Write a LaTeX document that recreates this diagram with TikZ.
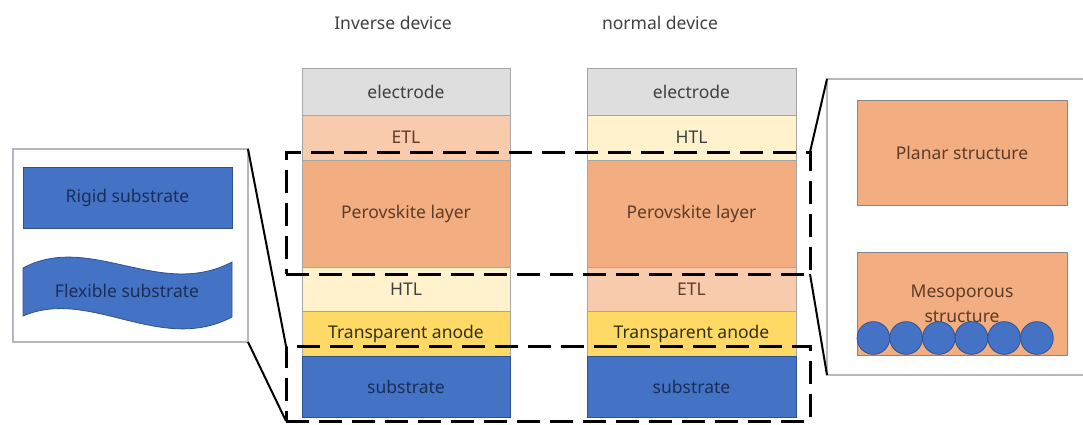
\documentclass[tikz,border=0pt]{standalone}
\usepackage{fontspec}
\setmainfont{Noto Sans}
\definecolor{elec}{HTML}{DEDEDE}
\definecolor{etl}{HTML}{F8CBAD}
\definecolor{pero}{HTML}{F2AD80}
\definecolor{htl}{HTML}{FFF2CC}
\definecolor{anode}{HTML}{FFD966}
\definecolor{subs}{HTML}{4472C4}
\definecolor{subsline}{HTML}{2F528F}
\definecolor{laybd}{HTML}{A6A6A6}
\definecolor{panelbd}{HTML}{B4B8BE}
\definecolor{txtgray}{HTML}{404040}
\definecolor{txtbrown}{HTML}{5E3C28}
\definecolor{txtanode}{HTML}{343018}
\definecolor{txtnavy}{HTML}{1A2F58}
\begin{document}
\begin{tikzpicture}[x=1pt,y=-1pt,
  every node/.style={outer sep=0pt},
  lbl/.style={font=\fontsize{17.5}{22}\selectfont},
  layer/.style={lbl, draw=laybd, line width=0.8pt, anchor=north west, inner sep=0pt},
  lw/.style={minimum width=208pt},
  rw/.style={minimum width=209pt},
  dashbox/.style={draw=black, line width=3pt, dash pattern=on 23pt off 10pt, anchor=north west, inner sep=0pt},
  panel/.style={draw=panelbd, line width=1.2pt, anchor=north west, inner sep=0pt},
  conn/.style={draw=black, line width=2pt},
  bluebox/.style={lbl, fill=subs, draw=subsline, line width=0.8pt, text=txtnavy, anchor=north west, inner sep=0pt},
  perobox/.style={lbl, fill=pero, draw=laybd!80!black, line width=0.8pt, text=txtbrown, anchor=north west, inner sep=0pt},
  dot/.style={circle, fill=subs, draw=subsline, line width=0.8pt, minimum size=32.7pt, inner sep=0pt},
  title/.style={font=\fontsize{17.5}{22}\selectfont, text=txtgray}]
\useasboundingbox (0,0) rectangle (1083,425);
\clip (0,0) rectangle (1083,425);
% titles
\node[title] (t1) at (393,23) {Inverse device};
\node[title] (t2) at (660,23) {normal device};
% inverse stack
\node[layer, lw, fill=elec, text=txtgray, minimum height=47pt] (le) at (302,68) {electrode};
\node[layer, lw, fill=etl, text=txtbrown, minimum height=45pt] (let) at (302,115) {ETL};
\node[layer, lw, fill=pero, text=txtbrown, minimum height=107pt] (lp2) at (302,160) {Perovskite layer};
\node[layer, lw, fill=htl, text=txtgray, minimum height=44pt] (lh) at (302,267) {HTL};
\node[layer, lw, fill=anode, text=txtanode, minimum height=45pt] (la) at (302,311) {Transparent anode};
\node[layer, lw, fill=subs, draw=subsline, text=txtnavy, minimum height=61pt] (ls) at (302,356) {substrate};
% normal stack
\node[layer, rw, fill=elec, text=txtgray, minimum height=47pt] (re) at (587,68) {electrode};
\node[layer, rw, fill=htl, text=txtgray, minimum height=45pt] (rh) at (587,115) {HTL};
\node[layer, rw, fill=pero, text=txtbrown, minimum height=107pt] (rp2) at (587,160) {Perovskite layer};
\node[layer, rw, fill=etl, text=txtbrown, minimum height=44pt] (ret) at (587,267) {ETL};
\node[layer, rw, fill=anode, text=txtanode, minimum height=45pt] (ra) at (587,311) {Transparent anode};
\node[layer, rw, fill=subs, draw=subsline, text=txtnavy, minimum height=61pt] (rs) at (587,356) {substrate};
% dashed selection boxes
\node[dashbox, minimum width=524pt, minimum height=122pt] (A) at (286,152) {};
\node[dashbox, minimum width=524pt, minimum height=75pt] (B) at (286,346) {};
% left panel
\node[panel, minimum width=235pt, minimum height=193pt] (lpan) at (13,149) {};
\node[bluebox, minimum width=209pt, minimum height=61pt] (rigid) at (23,167) {Rigid substrate};
\fill[subs, draw=subsline, line width=0.8pt]
  (23,268) .. controls (90,232) and (160,300) .. (232,262)
  -- (232,317) .. controls (160,355) and (90,287) .. (23,316) -- cycle;
\node[lbl, text=txtnavy] (flex) at (127,291) {Flexible substrate};
% right panel
\node[panel, minimum width=280pt, minimum height=296pt] (rpan) at (827,79) {};
\node[perobox, minimum width=210pt, minimum height=105pt] (planar) at (857,100) {Planar structure};
\node[perobox, minimum width=210pt, minimum height=103pt, align=center, font=\fontsize{17.5}{25}\selectfont] (meso) at (857,252) {Mesoporous\\structure};
\foreach \i in {0,...,5} {
  \node[dot] (c\i) at ({873.4+32.7*\i},338) {};
}
% connectors
\draw[conn] (lpan.north east) -- (B.north west);
\draw[conn] (lpan.south east) -- (B.south west);
\draw[conn] (A.north east) -- (rpan.north west);
\draw[conn] (A.south east) -- (rpan.south west);
\end{tikzpicture}
\end{document}
